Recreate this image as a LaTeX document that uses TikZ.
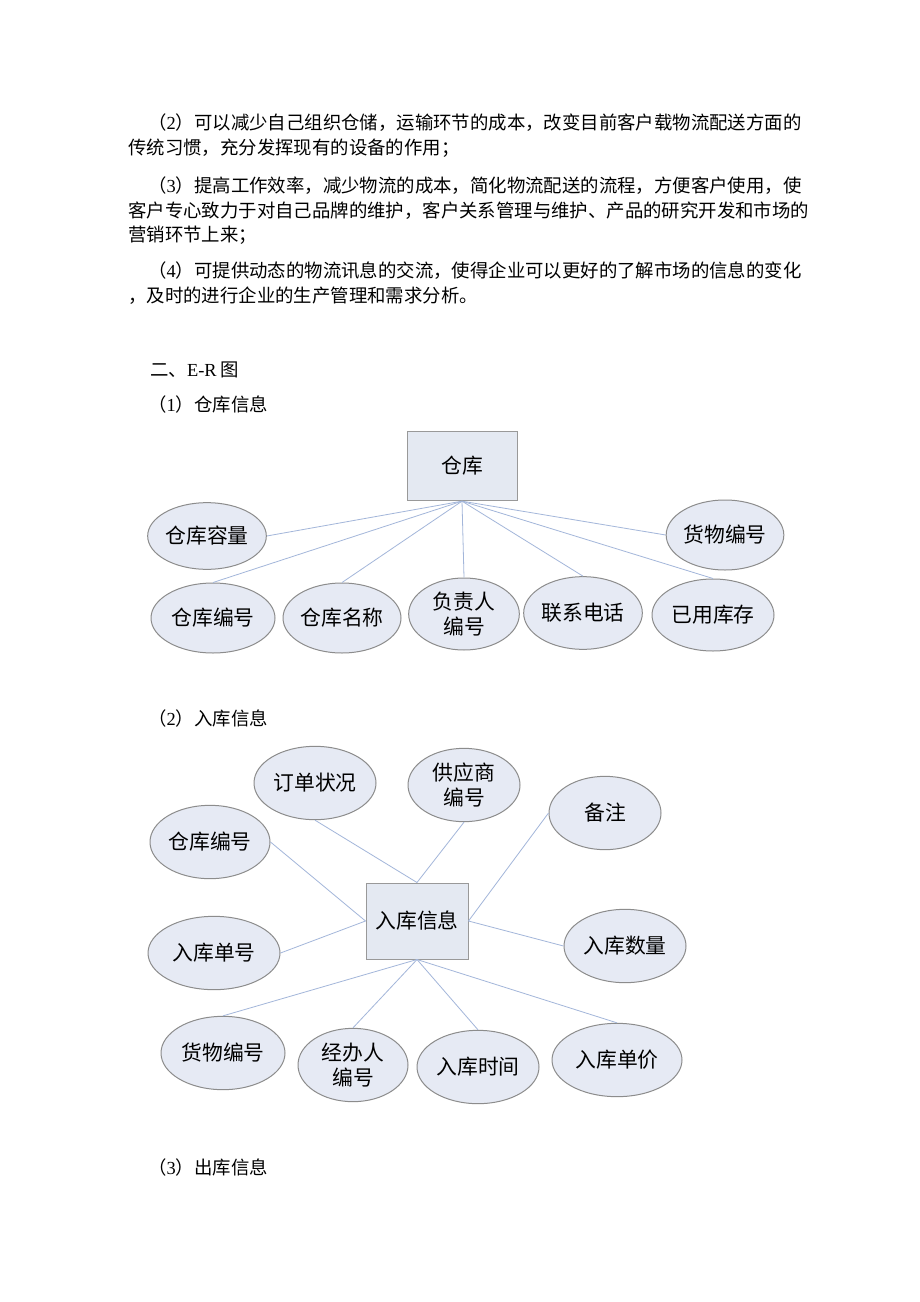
\documentclass[tikz,border=0pt]{standalone}
\usepackage{fontspec}
\setmainfont{Noto Sans CJK SC}
\newfontfamily\latf{Liberation Serif}
\usetikzlibrary{shapes.geometric}
\XeTeXlinebreaklocale "zh"
\XeTeXlinebreakskip=0pt plus 3pt
\definecolor{attrfill}{HTML}{E6EAF4}
\definecolor{attrborder}{HTML}{8C8C8C}
\definecolor{entfill}{HTML}{E4E9F2}
\definecolor{entborder}{HTML}{999999}
\definecolor{linkc}{HTML}{A3B6DA}
\begin{document}
\begin{tikzpicture}[x=0.75pt,y=-0.75pt,
  para/.style={anchor=west,inner sep=0,font=\fontsize{13.8pt}{16pt}\selectfont},
  attr/.style={ellipse,draw=attrborder,fill=attrfill,line width=0.75pt,inner sep=0,align=center,
    font=\fontsize{15.6pt}{18.75pt}\selectfont},
  ent/.style={rectangle,draw=entborder,fill=entfill,line width=0.75pt,inner sep=0,
    font=\fontsize{15.6pt}{18.75pt}\selectfont},
  link/.style={draw=linkc,line width=0.6pt}]
\fill[white] (0,0) rectangle (920,1302);
\useasboundingbox (0,0) rectangle (920,1302);

% paragraphs
\node[para] (p1a) at (148,123) {\makebox[495pt][s]{（{\latf 2}）可以减少自己组织仓储，运输环节的成本，改变目前客户载物流配送方面的}};
\node[para] (p1b) at (128,148) {传统习惯，充分发挥现有的设备的作用；};
\node[para] (p2a) at (148,186) {\makebox[495pt][s]{（{\latf 3}）提高工作效率，减少物流的成本，简化物流配送的流程，方便客户使用，使}};
\node[para] (p2b) at (128,211) {\makebox[510pt][s]{客户专心致力于对自己品牌的维护，客户关系管理与维护、产品的研究开发和市场的}};
\node[para] (p2c) at (128,235) {营销环节上来；};
\node[para] (p3a) at (148,271) {\makebox[493.5pt][s]{（{\latf 4}）可提供动态的物流讯息的交流，使得企业可以更好的了解市场的信息的变化}};
\node[para] (p3b) at (128,296) {，及时的进行企业的生产管理和需求分析。};

\node[para] (h1) at (150,370) {二、{\latf E-R} 图};
\node[para] (h2) at (148,405) {（{\latf 1}）仓库信息};
\node[para] (h3) at (148,718) {（{\latf 2}）入库信息};
\node[para] (h4) at (148,1167) {（{\latf 3}）出库信息};

% diagram 1
\node[ent,minimum width=82.5pt,minimum height=52pt] (ck) at (462,466) {仓库};
\node[attr,minimum width=89pt,minimum height=50pt] (a1) at (207,536) {仓库容量};
\node[attr,minimum width=85.5pt,minimum height=52.5pt] (a2) at (725,535) {货物编号};
\node[attr,minimum width=93pt,minimum height=52.5pt] (a3) at (213,618) {仓库编号};
\node[attr,minimum width=88.5pt,minimum height=52.5pt] (a4) at (342,618) {仓库名称};
\node[attr,minimum width=83pt,minimum height=54pt] (a5) at (464,614) {负责人\\编号};
\node[attr,minimum width=89pt,minimum height=54.5pt] (a6) at (583,613) {联系电话};
\node[attr,minimum width=91.5pt,minimum height=54pt] (a7) at (713,615) {已用库存};
\draw[link] (ck.south) -- (a1.east);
\draw[link] (ck.south) -- (a2.west);
\draw[link] (ck.south) -- (a3.north);
\draw[link] (ck.south) -- (a4.north);
\draw[link] (ck.south) -- (a5.north);
\draw[link] (ck.south) -- (a6.north);
\draw[link] (ck.south) -- (a7.north);

% diagram 2
\node[ent,minimum width=76.5pt,minimum height=57pt] (rk) at (417,921) {入库信息};
\node[attr,minimum width=91.5pt,minimum height=55pt] (b1) at (315,783) {订单状况};
\node[attr,minimum width=84pt,minimum height=55pt] (b2) at (464,785) {供应商\\编号};
\node[attr,minimum width=84pt,minimum height=55pt] (b3) at (605,813) {备注};
\node[attr,minimum width=90pt,minimum height=55pt] (b4) at (210,842) {仓库编号};
\node[attr,minimum width=99pt,minimum height=55pt] (b5) at (214,953) {入库单号};
\node[attr,minimum width=91.5pt,minimum height=55pt] (b6) at (625,946) {入库数量};
\node[attr,minimum width=93pt,minimum height=55pt] (b7) at (223,1053) {货物编号};
\node[attr,minimum width=82.5pt,minimum height=55pt] (b8) at (353,1065) {经办人\\编号};
\node[attr,minimum width=91.5pt,minimum height=55pt] (b9) at (478,1067) {入库时间};
\node[attr,minimum width=97.5pt,minimum height=55pt] (b10) at (617,1060) {入库单价};
\draw[link] (rk.north) -- (b1.south);
\draw[link] (rk.north) -- (b2.south);
\draw[link] (rk.east) -- (b3.west);
\draw[link] (rk.west) -- (b4.east);
\draw[link] (rk.west) -- (b5.east);
\draw[link] (rk.east) -- (b6.west);
\draw[link] (rk.south) -- (b7.north);
\draw[link] (rk.south) -- (b8.north);
\draw[link] (rk.south) -- (b9.north);
\draw[link] (rk.south) -- (b10.north);
\end{tikzpicture}
\end{document}
